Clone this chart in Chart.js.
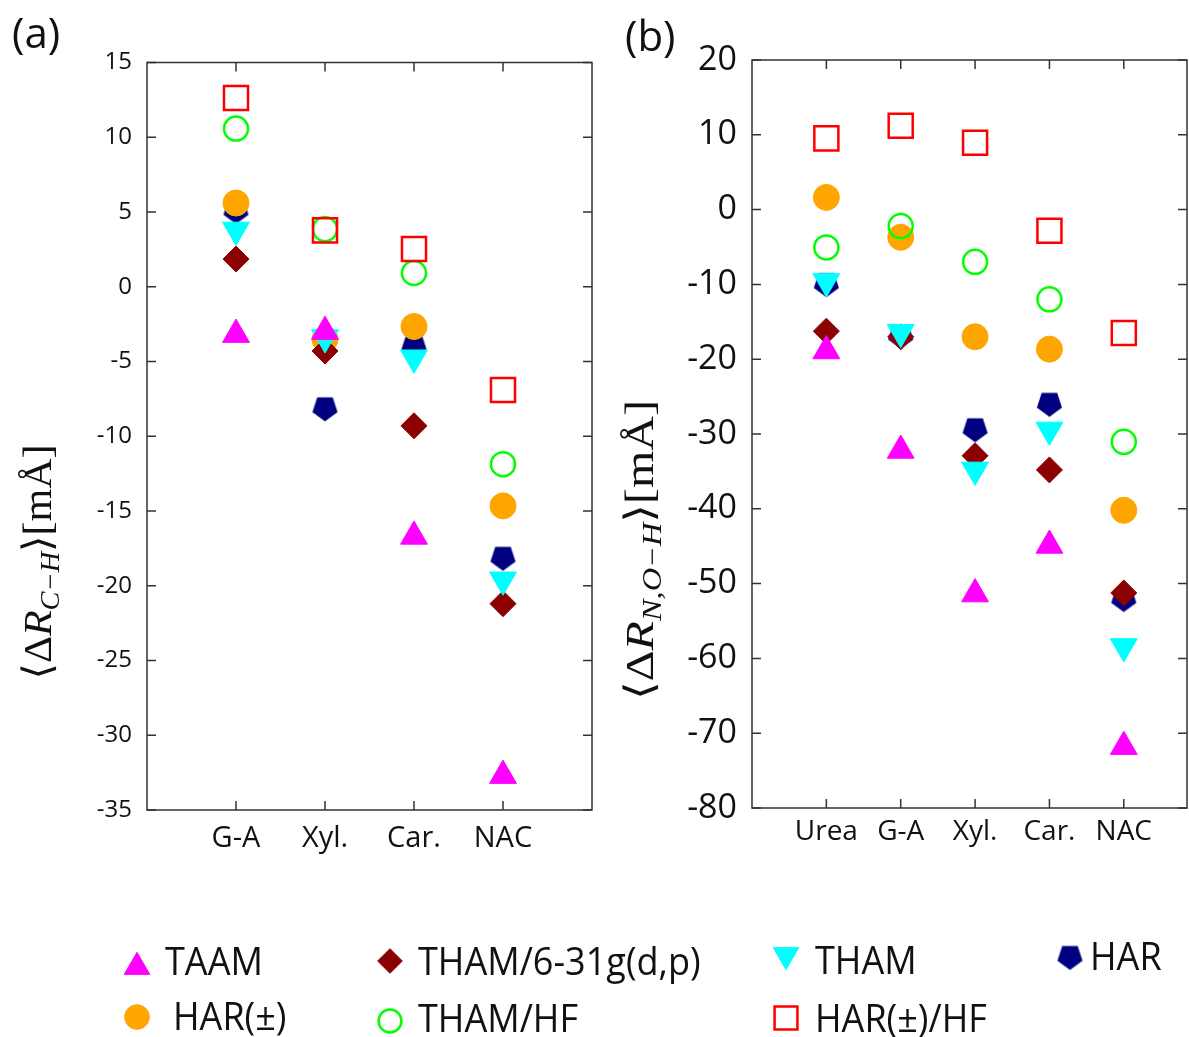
<!DOCTYPE html>
<html>
<head>
<meta charset="utf-8">
<script src="https://cdn.jsdelivr.net/npm/chart.js@4.4.1/dist/chart.umd.min.js"></script>
<style>
  body { margin: 0; background: #fff; }
  #wrap { position: relative; width: 1189px; height: 1037px; background: #fff; }
  #wrap canvas { position: absolute; left: 0; top: 0; }
</style>
</head>
<body>
<div id="wrap">
  <canvas id="chartA" width="1189" height="1037"></canvas>
  <canvas id="chartB" width="1189" height="1037"></canvas>
</div>
<script>
// panel (a): <ΔR C-H> [mÅ]
const catsA = ["G-A", "Xyl.", "Car.", "NAC"];
const taamA = [-3.2, -3.0, -16.7, -32.7];
const tham631A = [1.85, -4.3, -9.3, -21.2];
const thamA = [3.8, -3.4, -4.75, -19.6];
const harA = [5.0, -8.2, -4.0, -18.2];
const harPmA = [5.6, -3.5, -2.66, -14.66];
const thamHfA = [10.58, 3.86, 0.92, -11.87];
const harPmHfA = [12.63, 3.77, 2.52, -6.9];
const yTicksA = { min: -35, max: 15, step: 5 };

// panel (b): <ΔR N,O-H> [mÅ]
const catsB = ["Urea", "G-A", "Xyl.", "Car.", "NAC"];
const taamB = [-18.9, -32.2, -51.4, -44.9, -71.8];
const tham631B = [-16.25, -17.0, -32.9, -34.8, -51.25];
const thamB = [-9.6, -16.4, -34.8, -29.45, -58.4];
const harB = [-10.1, -17.0, -29.5, -26.1, -52.2];
const harPmB = [1.63, -3.7, -17.0, -18.66, -40.2];
const thamHfB = [-5.06, -2.2, -6.98, -12.0, -31.05];
const harPmHfB = [9.52, 11.2, 8.94, -2.83, -16.5];
const yTicksB = { min: -80, max: 20, step: 10 };

// navy pentagon marker (point down), Chart.js has no built-in one
function makePentagon(R, color) {
  const c = document.createElement("canvas");
  const size = Math.ceil(2 * R + 2);
  c.width = size; c.height = size;
  const g = c.getContext("2d");
  const cx = size / 2, cy = size / 2 - 0.095 * R;
  g.beginPath();
  for (let k = 0; k < 5; k++) {
    const a = Math.PI / 2 + k * 2 * Math.PI / 5;
    const px = cx + R * Math.cos(a), py = cy + R * Math.sin(a);
    k ? g.lineTo(px, py) : g.moveTo(px, py);
  }
  g.closePath();
  g.fillStyle = color;
  g.fill();
  return c;
}
const pentagon = makePentagon(13.2, "#000080");

// series look, in legend order; `order` sets stacking (0 = on top)
const seriesStyle = [
  { label: "TAAM", pointStyle: "triangle", rotation: 0, radius: 15.5, fill: "#ff00ff", stroke: "#ff00ff", bw: 1, order: 2 },
  { label: "THAM/6-31g(d,p)", pointStyle: "rectRot", rotation: 0, radius: 13, fill: "#8b0000", stroke: "#8b0000", bw: 1, order: 4 },
  { label: "THAM", pointStyle: "triangle", rotation: 180, radius: 15.5, fill: "#00ffff", stroke: "#00ffff", bw: 1, order: 3 },
  { label: "HAR", pointStyle: pentagon, rotation: 0, radius: 13, fill: "#000080", stroke: "#000080", bw: 0, order: 6 },
  { label: "HAR(±)", pointStyle: "circle", rotation: 0, radius: 13, fill: "#ffa500", stroke: "#ffa500", bw: 1, order: 5 },
  { label: "THAM/HF", pointStyle: "circle", rotation: 0, radius: 12, fill: "rgba(0,0,0,0)", stroke: "#00ff00", bw: 2.5, order: 1 },
  { label: "HAR(±)/HF", pointStyle: "rect", rotation: 0, radius: 17, fill: "rgba(0,0,0,0)", stroke: "#ff0000", bw: 2.5, order: 0 }
];

function buildDatasets(valueSets) {
  return seriesStyle.map((s, k) => ({
    label: s.label,
    data: valueSets[k].map((v, i) => ({ x: i + 1, y: v })),
    pointStyle: s.pointStyle,
    rotation: s.rotation,
    pointRadius: s.radius,
    backgroundColor: s.fill,
    borderColor: s.stroke,
    borderWidth: s.bw,
    order: s.order,
    showLine: false
  }));
}

// box around the plot with inward ticks on all four sides
const boxTicks = {
  id: "boxTicks",
  beforeDatasetsDraw(chart) {
    const { ctx, chartArea: a } = chart;
    const x = chart.scales.x, y = chart.scales.y;
    const len = 9;
    ctx.save();
    ctx.strokeStyle = "#333";
    ctx.lineWidth = 1.5;
    ctx.strokeRect(a.left, a.top, a.right - a.left, a.bottom - a.top);
    ctx.beginPath();
    x.ticks.forEach(t => {
      const px = x.getPixelForValue(t.value);
      ctx.moveTo(px, a.top); ctx.lineTo(px, a.top + len);
      ctx.moveTo(px, a.bottom); ctx.lineTo(px, a.bottom - len);
    });
    y.ticks.forEach(t => {
      const py = y.getPixelForValue(t.value);
      ctx.moveTo(a.left, py); ctx.lineTo(a.left + len, py);
      ctx.moveTo(a.right, py); ctx.lineTo(a.right - len, py);
    });
    ctx.stroke();
    ctx.restore();
  }
};

// rotated y title  ⟨ΔR_sub⟩[mÅ]  plus the panel letter
const panelText = {
  id: "panelText",
  afterDraw(chart, args, o) {
    const ctx = chart.ctx;
    ctx.save();
    ctx.fillStyle = "#111";
    ctx.font = '42px "Open Sans"';
    ctx.textBaseline = "alphabetic";
    ctx.fillText(o.letter, o.letterX, o.letterY);

    const big = 40, small = 27;
    const segs = [
      { t: "⟨", f: `${big}px "DejaVu Serif"`, dy: 0 },
      { t: "Δ", f: `${big}px "Liberation Serif"`, dy: 0 },
      { t: "R", f: `italic ${big}px "Liberation Serif"`, dy: 0 },
      { t: o.sub, f: `italic ${small}px "Liberation Serif"`, dy: 8 },
      { t: "⟩", f: `${big}px "DejaVu Serif"`, dy: 0 },
      { t: "[mÅ]", f: `${big}px "Liberation Serif"`, dy: 0 }
    ];
    let w = 0;
    segs.forEach(s => { ctx.font = s.f; s.w = ctx.measureText(s.t).width; w += s.w; });
    ctx.translate(o.titleX, o.titleY);
    ctx.rotate(-Math.PI / 2);
    ctx.scale(o.titleLen / w, 1);
    let cx = -w / 2;
    segs.forEach(s => {
      ctx.font = s.f;
      ctx.fillText(s.t, cx, 12 + s.dy);
      cx += s.w;
    });
    ctx.restore();
  }
};

// legend below both panels
const legendSlots = [
  { x: 137, y: 967, tx: 165, ty: 975 },
  { x: 390, y: 961, tx: 418, ty: 975 },
  { x: 786, y: 955, tx: 815, ty: 974 },
  { x: 1070, y: 958, tx: 1090, ty: 970 },
  { x: 137, y: 1017, tx: 173, ty: 1030 },
  { x: 390, y: 1021, tx: 418, ty: 1032 },
  { x: 786, y: 1018, tx: 815, ty: 1032 }
];
const bottomLegend = {
  id: "bottomLegend",
  afterDraw(chart) {
    const ctx = chart.ctx;
    ctx.save();
    seriesStyle.forEach((s, k) => {
      const slot = legendSlots[k];
      ctx.fillStyle = s.fill;
      ctx.strokeStyle = s.stroke;
      ctx.lineWidth = s.bw;
      Chart.helpers.drawPoint(ctx, {
        pointStyle: s.pointStyle, rotation: s.rotation, radius: s.radius * 0.95, borderWidth: s.bw
      }, slot.x, slot.y);
      ctx.save();
      ctx.fillStyle = "#111";
      ctx.font = '35px "Open Sans"';
      ctx.textBaseline = "alphabetic";
      ctx.translate(slot.tx, slot.ty);
      ctx.scale(1.03, 1.12);
      ctx.fillText(s.label, 0, 0);
      ctx.restore();
    });
    ctx.restore();
  }
};

function makeChart(id, cats, valueSets, yt, L) {
  return new Chart(document.getElementById(id), {
    type: "scatter",
    data: { datasets: buildDatasets(valueSets) },
    options: {
      responsive: false,
      animation: false,
      devicePixelRatio: 1,
      events: [],
      layout: { padding: L.padding, autoPadding: false },
      plugins: {
        legend: { display: false },
        tooltip: { enabled: false },
        panelText: L.text
      },
      scales: {
        x: {
          type: "linear",
          min: 0,
          max: L.xMax,
          grid: { display: false },
          border: { display: false },
          afterBuildTicks: s => { s.ticks = cats.map((c, i) => ({ value: i + 1 })); },
          afterFit: s => { s.height = L.xHeight; s.paddingLeft = 0; s.paddingRight = 0; },
          ticks: {
            callback: v => cats[v - 1],
            color: "#111",
            font: { family: "Open Sans", size: L.xFont },
            padding: L.xPad,
            maxRotation: 0,
            autoSkip: false
          }
        },
        y: {
          min: yt.min,
          max: yt.max,
          grid: { display: false, drawTicks: false },
          border: { display: false },
          afterFit: s => { s.width = L.yWidth; },
          ticks: {
            stepSize: yt.step,
            color: "#111",
            font: { family: "Open Sans", size: L.yFont },
            padding: 15
          }
        }
      }
    },
    plugins: L.extra
  });
}

makeChart("chartA", catsA,
  [taamA, tham631A, thamA, harA, harPmA, thamHfA, harPmHfA], yTicksA, {
    padding: { left: 0, right: 597, top: 62.5, bottom: 157 },
    xMax: 5, xHeight: 70, yWidth: 147, xFont: 29, yFont: 24, xPad: 3,
    text: { letter: "(a)", letterX: 12, letterY: 48, sub: "C−H", titleX: 39, titleY: 562, titleLen: 235 },
    extra: [boxTicks, panelText]
  });

makeChart("chartB", catsB,
  [taamB, tham631B, thamB, harB, harPmB, thamHfB, harPmHfB], yTicksB, {
    padding: { left: 600, right: 2, top: 60, bottom: 157 },
    xMax: 5.85, xHeight: 72, yWidth: 152, xFont: 28, yFont: 34, xPad: -1,
    text: { letter: "(b)", letterX: 625, letterY: 51, sub: "N,O−H", titleX: 641, titleY: 550, titleLen: 300 },
    extra: [boxTicks, panelText, bottomLegend]
  });
</script>
</body>
</html>
